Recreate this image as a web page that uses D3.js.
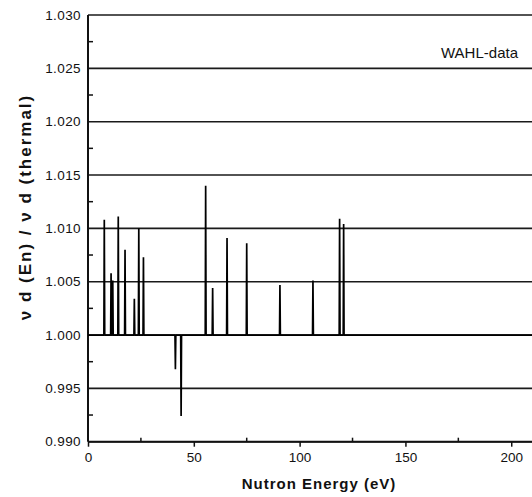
<!DOCTYPE html>
<html>
<head>
<meta charset="utf-8">
<script src="https://cdn.jsdelivr.net/npm/d3@7"></script>
<style>
  body { margin: 0; background: #fff; }
  svg { display: block; }
  text { fill: #111; }
</style>
</head>
<body>
<div id="chart"></div>
<script>
// resonance energies (eV) and ratio values
var energies = [7.7, 10.9, 11.7, 14.3, 17.5, 21.9, 24.0, 26.2, 41.3, 44.0,
                55.6, 58.9, 65.7, 75.0, 90.7, 106.3, 118.9, 120.8];
var ratios = [1.0108, 1.0058, 1.0051, 1.0111, 1.0080, 1.0034, 1.0100, 1.0073, 0.9968, 0.9924,
              1.0140, 1.0044, 1.0091, 1.0086, 1.0047, 1.0051, 1.0109, 1.0104];
var yTicks = [0.990, 0.995, 1.000, 1.005, 1.010, 1.015, 1.020, 1.025, 1.030];
var xTicks = [0, 50, 100, 150, 200];

var width = 532, height = 497;
var svg = d3.select('#chart').append('svg')
    .attr('width', width)
    .attr('height', height);

var x = d3.scaleLinear().domain([0, 210]).range([88, 532.4]);
var y = d3.scaleLinear().domain([0.990, 1.030]).range([441.7, 15]);

// horizontal grid lines
svg.append('g').selectAll('line')
    .data(yTicks)
    .enter().append('line')
    .attr('x1', x(0)).attr('x2', width)
    .attr('y1', function(d) { return y(d); })
    .attr('y2', function(d) { return y(d); })
    .attr('stroke', '#1a1a1a')
    .attr('stroke-width', 1.6);

// minor y ticks (inside)
var yMinor = d3.range(0.9925, 1.030, 0.005);
svg.append('g').selectAll('line')
    .data(yMinor)
    .enter().append('line')
    .attr('x1', x(0)).attr('x2', x(0) + 5)
    .attr('y1', function(d) { return y(d); })
    .attr('y2', function(d) { return y(d); })
    .attr('stroke', '#111')
    .attr('stroke-width', 1.5);

// x axis
var xAxis = d3.axisBottom(x)
    .tickValues(xTicks)
    .tickSize(5)
    .tickPadding(6)
    .tickFormat(d3.format('d'));
var gx = svg.append('g')
    .attr('transform', 'translate(0,' + y(0.990) + ')')
    .call(xAxis);
gx.select('.domain').remove();
gx.selectAll('.tick line').attr('stroke', '#111').attr('stroke-width', 1.5);
gx.selectAll('.tick text')
    .attr('font-family', 'Liberation Sans, Arial, sans-serif')
    .attr('font-size', 13.5)
    .attr('fill', '#111');

// minor x ticks (pointing up)
svg.append('g').selectAll('line')
    .data([25, 75, 125, 175])
    .enter().append('line')
    .attr('x1', function(d) { return x(d); })
    .attr('x2', function(d) { return x(d); })
    .attr('y1', y(0.990)).attr('y2', y(0.990) - 4)
    .attr('stroke', '#111')
    .attr('stroke-width', 1.5);

// y axis labels
svg.append('g').selectAll('text')
    .data(yTicks)
    .enter().append('text')
    .attr('x', 81)
    .attr('y', function(d) { return y(d); })
    .attr('dy', '0.35em')
    .attr('text-anchor', 'end')
    .attr('font-family', 'Liberation Sans, Arial, sans-serif')
    .attr('font-size', 13.5)
    .attr('letter-spacing', 0.4)
    .text(function(d) { return d3.format('.3f')(d); });

// axis lines
svg.append('line')
    .attr('x1', x(0)).attr('x2', x(0))
    .attr('y1', y(1.030)).attr('y2', y(0.990))
    .attr('stroke', '#111').attr('stroke-width', 2);
svg.append('line')
    .attr('x1', x(0)).attr('x2', width)
    .attr('y1', y(0.990)).attr('y2', y(0.990))
    .attr('stroke', '#111').attr('stroke-width', 2);

// resonance spikes drawn as one data line through the baseline
var pts = [[0, 1.0]];
energies.forEach(function(e, i) {
    pts.push([e - 0.2, 1.0]);
    pts.push([e, ratios[i]]);
    pts.push([e + 0.2, 1.0]);
});
pts.push([210, 1.0]);

var line = d3.line()
    .x(function(d) { return x(d[0]); })
    .y(function(d) { return y(d[1]); });

svg.append('path')
    .datum(pts)
    .attr('d', line)
    .attr('fill', 'none')
    .attr('stroke', '#000')
    .attr('stroke-width', 1.7)
    .attr('stroke-linejoin', 'bevel');

// titles
svg.append('text')
    .attr('x', 518).attr('y', 58)
    .attr('text-anchor', 'end')
    .attr('font-family', 'Liberation Sans, Arial, sans-serif')
    .attr('font-size', 15)
    .text('WAHL-data');

svg.append('text')
    .attr('x', 319).attr('y', 489)
    .attr('text-anchor', 'middle')
    .attr('font-family', 'Liberation Sans, Arial, sans-serif')
    .attr('font-size', 15)
    .attr('font-weight', 'bold')
    .attr('letter-spacing', 1)
    .text('Nutron Energy (eV)');

svg.append('text')
    .attr('transform', 'translate(31,207) rotate(-90)')
    .attr('text-anchor', 'middle')
    .attr('font-family', 'Liberation Sans, Arial, sans-serif')
    .attr('font-size', 17)
    .attr('font-weight', 'bold')
    .attr('letter-spacing', 2)
    .text('ν d (En) / ν d (thermal)');
</script>
</body>
</html>
